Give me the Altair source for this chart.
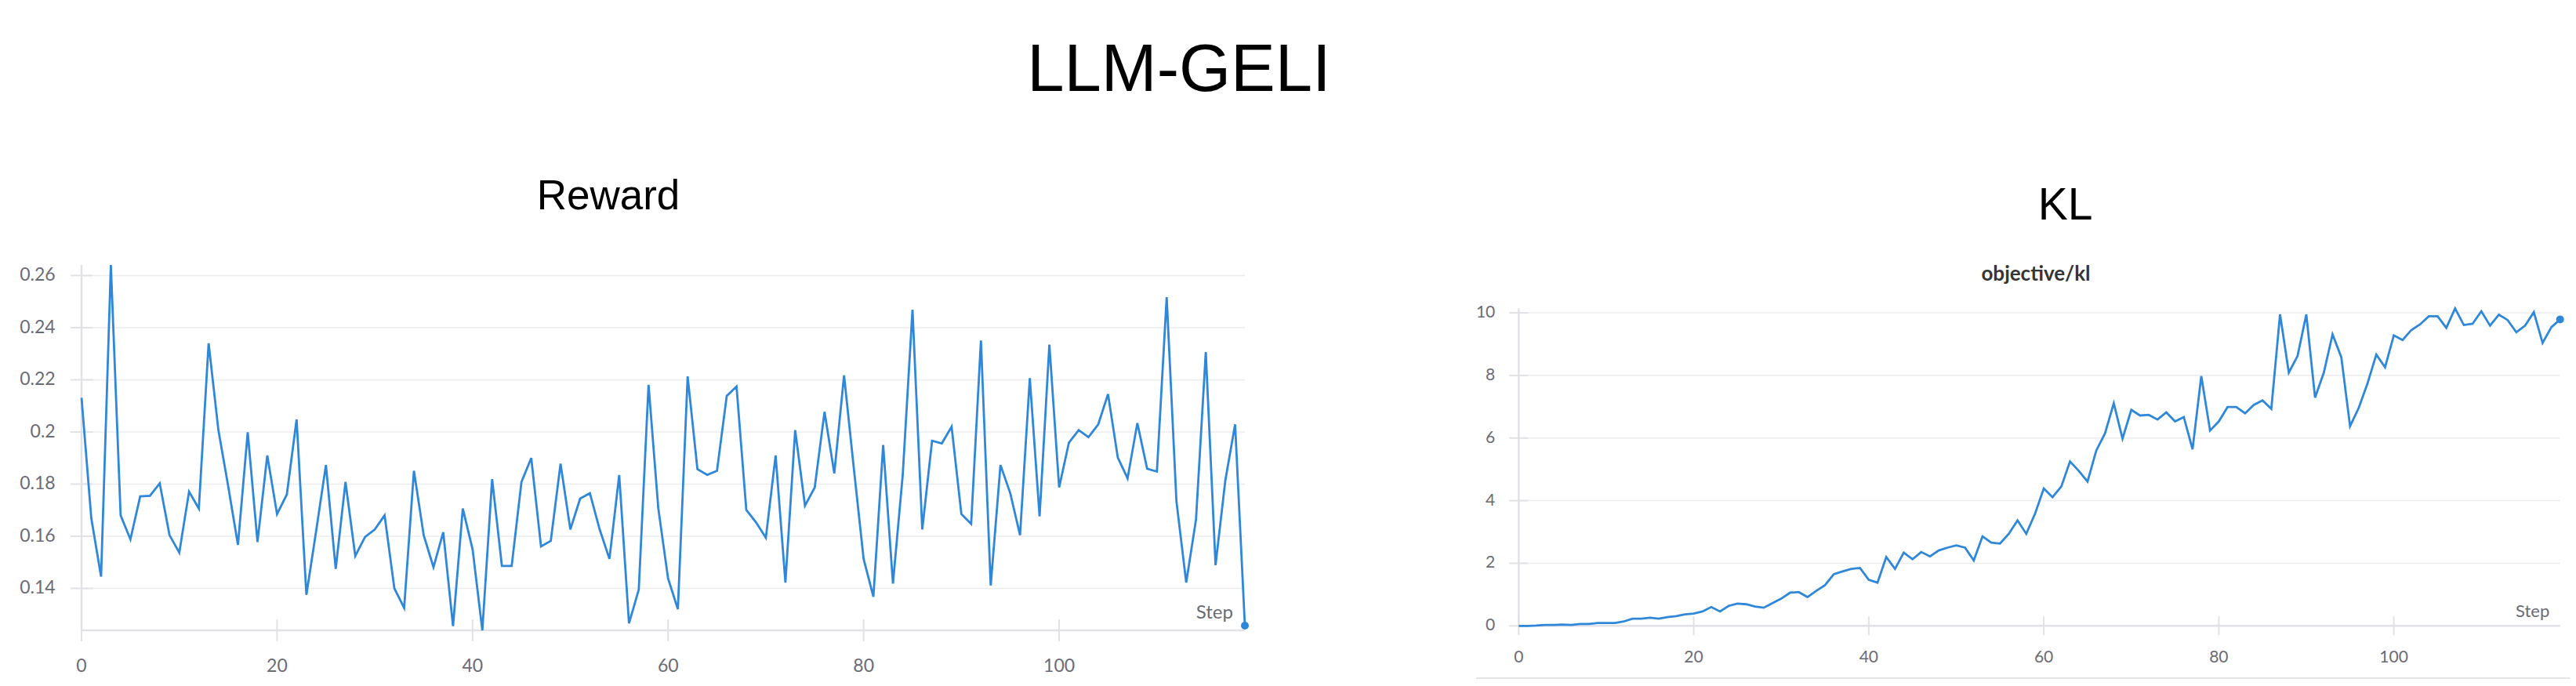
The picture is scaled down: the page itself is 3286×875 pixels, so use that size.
import altair as alt
import pandas as pd

# ---------------- data ----------------
steps = list(range(120))

reward = [
    0.2131, 0.1669, 0.1445, 0.2640, 0.1680, 0.1588, 0.1753, 0.1755, 0.1803, 0.1604,
    0.1537, 0.1771, 0.1706, 0.2340, 0.2007, 0.1792, 0.1567, 0.1999, 0.1578, 0.1910,
    0.1685, 0.1760, 0.2048, 0.1375, 0.1620, 0.1873, 0.1475, 0.1808, 0.1524, 0.1597,
    0.1626, 0.1680, 0.1400, 0.1325, 0.1851, 0.1604, 0.1481, 0.1615, 0.1255, 0.1706,
    0.1550, 0.1239, 0.1819, 0.1486, 0.1486, 0.1808, 0.1900, 0.1561, 0.1582, 0.1878,
    0.1626, 0.1744, 0.1765, 0.1626, 0.1513, 0.1835, 0.1266, 0.1395, 0.2181, 0.1706,
    0.1438, 0.1320, 0.2213, 0.1857, 0.1835, 0.1851, 0.2138, 0.2174, 0.1701, 0.1653,
    0.1594, 0.1910, 0.1422, 0.2007, 0.1717, 0.1787, 0.2077, 0.1841, 0.2217, 0.1860,
    0.1513, 0.1368, 0.1950, 0.1418, 0.1835, 0.2469, 0.1626, 0.1966, 0.1956, 0.2020,
    0.1685, 0.1647, 0.2351, 0.1411, 0.1873, 0.1765, 0.1604, 0.2206, 0.1676, 0.2335,
    0.1787, 0.1959, 0.2007, 0.1980, 0.2029, 0.2145, 0.1902, 0.1822, 0.2034, 0.1859,
    0.1848, 0.2517, 0.1733, 0.1422, 0.1664, 0.2306, 0.1489, 0.1814, 0.2029, 0.1257,
]

kl = [
    0.00, 0.00, 0.01, 0.03, 0.03, 0.04, 0.03, 0.06, 0.06, 0.09,
    0.09, 0.09, 0.14, 0.23, 0.23, 0.26, 0.23, 0.28, 0.31, 0.37,
    0.39, 0.46, 0.60, 0.46, 0.64, 0.71, 0.69, 0.62, 0.58, 0.73,
    0.87, 1.06, 1.08, 0.92, 1.12, 1.30, 1.65, 1.74, 1.82, 1.85,
    1.47, 1.38, 2.20, 1.82, 2.34, 2.13, 2.36, 2.22, 2.41, 2.50,
    2.57, 2.50, 2.09, 2.86, 2.66, 2.63, 2.94, 3.37, 2.94, 3.58,
    4.39, 4.11, 4.45, 5.25, 4.95, 4.61, 5.60, 6.15, 7.11, 5.98,
    6.90, 6.72, 6.74, 6.59, 6.82, 6.53, 6.67, 5.64, 7.98, 6.24,
    6.53, 6.99, 6.99, 6.79, 7.06, 7.20, 6.93, 9.95, 8.09, 8.62,
    9.95, 7.29, 8.09, 9.31, 8.58, 6.38, 6.97, 7.75, 8.67, 8.26,
    9.28, 9.13, 9.45, 9.63, 9.89, 9.89, 9.52, 10.14, 9.61, 9.65,
    10.05, 9.59, 9.94, 9.77, 9.38, 9.59, 10.02, 9.04, 9.54, 9.79,
]

reward_ticks = [0.14, 0.16, 0.18, 0.20, 0.22, 0.24, 0.26]
kl_ticks = [0, 2, 4, 6, 8, 10]
step_ticks = [0, 20, 40, 60, 80, 100]

main_title = "LLM-GELI"
reward_title = "Reward"
kl_title = "KL"
kl_subtitle = "objective/kl"
x_name = "Step"

# ---------------- style ----------------
W, H = 3270, 859
LINE = "#2f87d9"
AXIS = "#e1e1e6"
GRID = "#ececef"
LABEL = "#6b6b76"
FONT = "Lato"
TFONT = "Liberation Sans"


def panel(values, ticks, fmt, xr, yr, th, xlab_dy, ylab_dx, lsize, sdx, sdy, ssize):
    df = pd.DataFrame({"step": steps, "value": values})
    one = pd.DataFrame({"k": [0]})
    xt = pd.DataFrame({"t": step_ticks})
    yt = pd.DataFrame({"t": ticks})
    ymin, ymax = min(values), max(values)
    xs = alt.Scale(domain=[0, 119], range=xr, nice=False, zero=False)
    ys = alt.Scale(domain=[ymin, ymax], range=yr, nice=False, zero=False)

    def X(field):
        return alt.X(field, scale=xs, axis=None)

    def Y(field):
        return alt.Y(field, scale=ys, axis=None)

    x0 = alt.XDatum(0, scale=xs, axis=None)
    ybot = alt.YDatum(ymin, scale=ys, axis=None)

    grid = alt.Chart(yt).mark_rule(color=GRID, strokeWidth=1.5).encode(
        y=Y("t:Q"), x=x0, x2=alt.datum(119)
    )
    xbase = alt.Chart(one).mark_rule(color=AXIS, strokeWidth=2.5).encode(
        y=ybot, x=x0, x2=alt.datum(119)
    )
    ybase = alt.Chart(one).mark_rule(color=AXIS, strokeWidth=2.5).encode(
        x=x0, y=ybot, y2=alt.datum(ymax)
    )
    xticks = alt.Chart(xt).mark_tick(
        orient="vertical", size=2 * th, thickness=2, color=AXIS, opacity=1
    ).encode(x=X("t:Q"), y=ybot)
    yticks = alt.Chart(yt).mark_tick(
        orient="horizontal", size=2 * th, thickness=2, color=AXIS, opacity=1
    ).encode(x=x0, y=Y("t:Q"))
    xlabels = alt.Chart(xt).mark_text(
        align="center", baseline="top", dy=xlab_dy, font=FONT, fontSize=lsize, color=LABEL
    ).encode(x=X("t:Q"), y=ybot, text=alt.Text("t:Q", format="d"))
    ylabels = alt.Chart(yt).mark_text(
        align="right", baseline="middle", dx=ylab_dx, font=FONT, fontSize=lsize, color=LABEL
    ).encode(x=x0, y=Y("t:Q"), text=alt.Text("t:Q", format=fmt))

    line = alt.Chart(df).mark_line(color=LINE, strokeWidth=2.8).encode(
        x=X("step:Q"), y=Y("value:Q")
    )
    last = alt.Chart(df).transform_filter(alt.datum.step == 119).mark_point(
        filled=True, size=100, color=LINE, opacity=1
    ).encode(x=X("step:Q"), y=Y("value:Q"))

    step_lbl = alt.Chart(one).mark_text(
        text=x_name, align="right", baseline="alphabetic", dx=sdx, dy=sdy,
        font=FONT, fontSize=ssize, color=LABEL,
    ).encode(x=alt.XDatum(119, scale=xs, axis=None), y=ybot)

    return alt.layer(grid, xbase, ybase, xticks, yticks, xlabels, ylabels,
                     line, last, step_lbl)


reward_panel = panel(
    reward, reward_ticks, ".2~f", [96, 1580], [796, 330.1],
    14, 34.7, -33.3, 23, -15, -15.4, 24,
)
kl_panel = panel(
    kl, kl_ticks, "d", [1929.3, 3257.7], [790.3, 385.4],
    12, 29.7, -30, 21, -13.4, -11.6, 22,
)


def label(text, x, y, size, font=TFONT, weight="normal", color="#000000"):
    return alt.Chart(pd.DataFrame({"t": [text]})).mark_text(
        align="center", baseline="alphabetic", font=font, fontSize=size,
        fontWeight=weight, color=color,
    ).encode(x=alt.value(x), y=alt.value(y), text="t:N")


border = alt.Chart(pd.DataFrame({"k": [0]})).mark_rule(
    color="#e4e4e4", strokeWidth=2
).encode(x=alt.value(1875), x2=alt.value(3270), y=alt.value(857))

chart = alt.layer(
    reward_panel,
    kl_panel,
    label(main_title, 1496, 108.4, 85),
    label(reward_title, 768, 258.7, 53),
    label(kl_title, 2626.7, 272, 57),
    label(kl_subtitle, 2589, 350, 26, font=FONT, weight="bold", color="#353535"),
    border,
).resolve_scale(x="independent", y="independent").properties(
    width=W, height=H, padding=0, background="white",
    autosize=alt.AutoSizeParams(type="none"),
).configure_view(stroke=None)

chart.save("out.html", embed_options={"renderer": "svg", "actions": False})
